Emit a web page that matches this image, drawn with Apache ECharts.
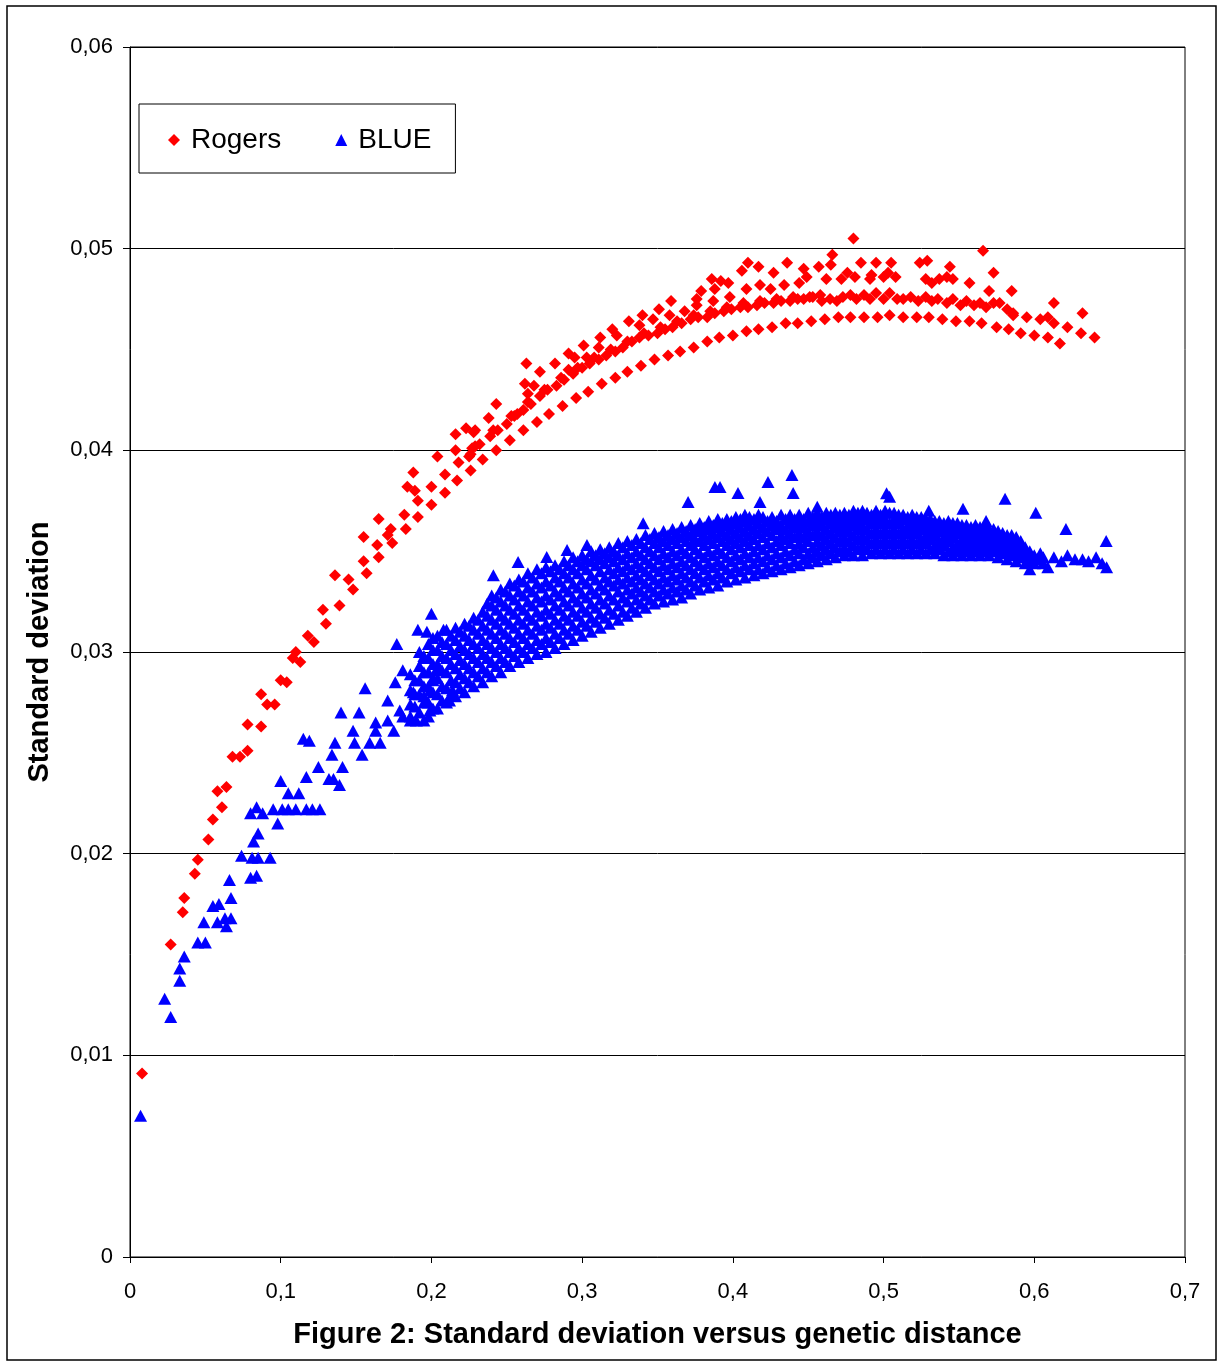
<!DOCTYPE html>
<html>
<head>
<meta charset="utf-8">
<script src="https://cdn.jsdelivr.net/npm/echarts@6/dist/echarts.min.js"></script>
<style>
  html, body { margin: 0; padding: 0; background: #fff; }
  #chart { width: 1218px; height: 1363px; }
</style>
</head>
<body>
<div id="chart"></div>
<script>
// axis ticks
var xTicks = [0, 0.1, 0.2, 0.3, 0.4, 0.5, 0.6, 0.7];
var yTicks = [0, 0.01, 0.02, 0.03, 0.04, 0.05, 0.06];

// Rogers, steep part at small distances
var rogersEarly = [
  [0.008,0.0091],[0.027,0.0155],[0.035,0.0171],[0.036,0.0178],[0.043,0.0190],[0.045,0.0197],
  [0.052,0.0207],[0.055,0.0217],[0.058,0.0231],[0.061,0.0223],[0.064,0.0233],[0.068,0.0248],
  [0.073,0.0248],[0.078,0.0251],[0.078,0.0264],[0.087,0.0263],[0.087,0.0279],[0.091,0.0274],
  [0.096,0.0274],[0.100,0.0286],[0.104,0.0285],[0.108,0.0297],[0.110,0.0300],[0.113,0.0295],
  [0.118,0.0308],[0.122,0.0305],[0.128,0.0321],[0.130,0.0314],[0.136,0.0338],[0.139,0.0323],
  [0.145,0.0336],[0.148,0.0331],[0.155,0.0357],[0.155,0.0345],[0.157,0.0339],[0.164,0.0353],
  [0.165,0.0347],[0.165,0.0366],[0.171,0.0358],[0.173,0.0361],[0.174,0.0354],[0.182,0.0368],
  [0.183,0.0361],[0.184,0.0382],[0.188,0.0389],[0.189,0.0380],[0.191,0.0375],[0.191,0.0367],
  [0.200,0.0382],[0.200,0.0373],[0.204,0.0397],[0.209,0.0388],[0.209,0.0379],[0.216,0.0408],
  [0.216,0.0400],[0.217,0.0385],[0.218,0.0394],[0.223,0.0411],[0.225,0.0397],[0.226,0.0390],
  [0.227,0.0401],[0.228,0.0409]
];
// Rogers, lower regular band
var rogersLow = [
  [0.234,0.03955],[0.243,0.0400],[0.252,0.0405],[0.261,0.0410],[0.270,0.0414],[0.278,0.0418],
  [0.287,0.0422],[0.296,0.0426],[0.304,0.0429],[0.313,0.0433],[0.322,0.0436],[0.330,0.0439],
  [0.339,0.0442],[0.348,0.0445],[0.357,0.0447],[0.365,0.0449],[0.374,0.0451],[0.383,0.0454],
  [0.391,0.0456],[0.400,0.0457],[0.409,0.0459],[0.417,0.0460],[0.426,0.0461],[0.435,0.0463],
  [0.443,0.0463],[0.452,0.0464],[0.461,0.0465],[0.470,0.0466],[0.478,0.0466],[0.487,0.0466],
  [0.496,0.0466],[0.504,0.0467],[0.513,0.0466],[0.522,0.0466],[0.530,0.0466],[0.539,0.0465],
  [0.548,0.0464],[0.557,0.0464],[0.565,0.0463],[0.575,0.0461],[0.583,0.0460],[0.591,0.0458],
  [0.600,0.0457],[0.609,0.0456],[0.617,0.0453],[0.631,0.0458],[0.640,0.0456]
];
// Rogers, dense middle band
var rogersMid = [
  [0.226,0.0398],[0.229,0.0402],[0.232,0.0403],[0.239,0.0407],[0.241,0.0410],[0.244,0.0410],
  [0.250,0.0413],[0.253,0.0417],[0.255,0.0417],[0.261,0.0420],[0.264,0.0424],[0.266,0.0423],
  [0.272,0.0427],[0.275,0.0430],[0.277,0.0430],[0.283,0.0432],[0.286,0.0436],[0.288,0.0435],
  [0.294,0.0438],[0.297,0.0441],[0.300,0.0441],[0.305,0.0443],[0.308,0.0446],[0.311,0.0445],
  [0.316,0.0447],[0.319,0.0450],[0.322,0.0449],[0.327,0.0451],[0.330,0.0454],[0.333,0.0454],
  [0.338,0.0456],[0.341,0.0458],[0.344,0.0457],[0.350,0.0458],[0.352,0.0461],[0.355,0.0460],
  [0.360,0.0461],[0.363,0.0464],[0.366,0.0463],[0.372,0.0465],[0.374,0.0467],[0.377,0.0466],
  [0.383,0.0466],[0.385,0.0469],[0.388,0.0468],[0.394,0.0469],[0.396,0.0471],[0.399,0.0470],
  [0.405,0.0471],[0.407,0.0473],[0.410,0.0471],[0.416,0.0472],[0.418,0.0474],[0.421,0.0473],
  [0.427,0.0473],[0.429,0.0475],[0.432,0.0474],[0.438,0.0474],[0.440,0.0476],[0.443,0.0475],
  [0.447,0.0475],[0.451,0.0476],[0.453,0.0476],[0.458,0.0477],[0.459,0.0474],[0.4645,0.0475],
  [0.469,0.0474],[0.473,0.0476],[0.478,0.0477],[0.482,0.0475],[0.487,0.0477],[0.491,0.0475],
  [0.495,0.0478],[0.500,0.0475],[0.504,0.0478],[0.509,0.0475],[0.513,0.0475],[0.518,0.0476],
  [0.523,0.0474],[0.528,0.0476],[0.532,0.0474],[0.536,0.0475],[0.542,0.0473],[0.546,0.0475],
  [0.551,0.0472],[0.555,0.0474],[0.560,0.0472],[0.564,0.0473],[0.568,0.0471],[0.573,0.0473],
  [0.577,0.0473],[0.582,0.0470],[0.586,0.0467]
];
// Rogers, scattered upper points
var rogersHigh = [
  [0.229,0.0410],[0.238,0.0416],[0.243,0.0423],[0.257,0.0418],[0.263,0.0443],[0.272,0.0439],
  [0.262,0.0433],[0.268,0.0432],[0.264,0.0428],[0.282,0.0443],[0.291,0.0448],[0.295,0.0446],
  [0.301,0.0452],[0.303,0.0446],[0.291,0.0440],[0.312,0.0456],[0.320,0.0460],[0.323,0.0457],
  [0.311,0.0451],[0.331,0.0464],[0.340,0.0467],[0.338,0.0462],[0.347,0.0465],[0.351,0.0470],
  [0.359,0.0474],[0.358,0.0467],[0.368,0.0469],[0.376,0.0475],[0.379,0.0479],[0.376,0.0472],
  [0.387,0.0474],[0.386,0.0485],[0.392,0.0484],[0.388,0.0480],[0.397,0.0483],[0.398,0.0476],
  [0.406,0.0489],[0.410,0.0493],[0.417,0.0491],[0.409,0.0480],[0.418,0.0482],[0.427,0.0488],
  [0.425,0.0480],[0.434,0.0482],[0.436,0.0493],[0.444,0.0483],[0.447,0.0490],[0.449,0.0486],
  [0.457,0.0491],[0.462,0.0485],[0.466,0.0497],[0.465,0.0492],[0.472,0.0485],[0.476,0.0488],
  [0.480,0.0505],[0.481,0.0486],[0.485,0.0493],[0.491,0.0485],[0.492,0.0487],[0.495,0.0493],
  [0.500,0.0486],[0.503,0.0488],[0.505,0.0493],[0.508,0.0486],[0.524,0.0493],[0.529,0.0494],
  [0.528,0.0485],[0.532,0.0483],[0.537,0.0485],[0.542,0.0486],[0.544,0.0491],[0.546,0.0485],
  [0.557,0.0483],[0.566,0.0499],[0.570,0.0479],[0.573,0.0488],[0.585,0.0479],[0.586,0.0468],
  [0.595,0.0466],[0.604,0.0465],[0.609,0.0466],[0.613,0.0463],[0.622,0.0461],[0.613,0.0473],
  [0.632,0.0468]
];

// BLUE, sparse points at small distances
var blueEarly = [
  [0.007,0.0070],[0.023,0.0128],[0.027,0.0119],[0.033,0.0137],[0.033,0.0143],[0.036,0.0149],
  [0.045,0.0156],[0.050,0.0156],[0.049,0.0166],[0.055,0.0174],[0.059,0.0175],[0.058,0.0166],
  [0.063,0.0168],[0.064,0.0164],[0.067,0.0168],[0.067,0.0178],[0.066,0.0187],[0.074,0.0199],
  [0.080,0.0188],[0.084,0.0189],[0.081,0.0198],[0.085,0.0198],[0.093,0.0198],[0.082,0.0206],
  [0.085,0.0210],[0.098,0.0215],[0.080,0.0220],[0.084,0.0223],[0.088,0.0220],[0.095,0.0222],
  [0.101,0.0222],[0.105,0.0222],[0.110,0.0222],[0.117,0.0222],[0.121,0.0222],[0.126,0.0222],
  [0.105,0.0230],[0.112,0.0230],[0.100,0.0236],[0.117,0.0238],[0.125,0.0243],[0.132,0.0237],
  [0.139,0.0234],[0.135,0.0237],[0.141,0.0243],[0.115,0.0257],[0.119,0.0256],[0.134,0.0249],
  [0.136,0.0255],[0.140,0.0270],[0.152,0.0270],[0.148,0.0261],[0.149,0.0255],[0.154,0.0249],
  [0.159,0.0255],[0.163,0.0265],[0.166,0.0255],[0.163,0.0261],[0.171,0.0266],[0.175,0.0261],
  [0.156,0.0282],[0.171,0.0276],[0.181,0.0291],[0.176,0.0285],[0.179,0.0271],[0.186,0.0266],
  [0.190,0.0266],[0.195,0.0266],[0.188,0.0280],[0.195,0.0278],[0.177,0.0304],[0.181,0.0268],
  [0.191,0.0311],[0.197,0.0310],[0.208,0.0311],[0.200,0.0319],[0.199,0.0271],[0.212,0.0276],
  [0.214,0.0281],[0.199,0.0281],[0.201,0.0286],[0.203,0.0291],[0.195,0.0298]
];
// BLUE, dense cloud: column x and the y values seen stacked in it
var blueCols = [
  [0.186, [0.0268,0.0274,0.0281,0.0289]],
  [0.192, [0.0270,0.0279,0.0286,0.0293,0.0300]],
  [0.198, [0.0268,0.0275,0.0283,0.0290,0.0297,0.0304]],
  [0.204, [0.0272,0.0279,0.0287,0.0294,0.0301,0.0308]],
  [0.210, [0.0275,0.0282,0.0290,0.0297,0.0304,0.0311]],
  [0.216, [0.0278,0.0285,0.0292,0.0299,0.0306,0.0312]],
  [0.222, [0.0280,0.0287,0.0294,0.0301,0.0308,0.0314]],
  [0.228, [0.0283,0.0290,0.0297,0.0304,0.0311,0.0317]],
  [0.234, [0.0285,0.0292,0.0299,0.0306,0.0313,0.0320]],
  [0.240, [0.0288,0.0295,0.0302,0.0309,0.0316,0.0323,0.0328]],
  [0.246, [0.0290,0.0297,0.0304,0.0311,0.0318,0.0325,0.0331]],
  [0.252, [0.0293,0.0300,0.0307,0.0314,0.0321,0.0328,0.0334]],
  [0.258, [0.0295,0.0302,0.0309,0.0316,0.0323,0.0330,0.0336]],
  [0.264, [0.0297,0.0304,0.0311,0.0318,0.0325,0.0332,0.0339]],
  [0.270, [0.0299,0.0306,0.0313,0.0320,0.0327,0.0334,0.0341]],
  [0.276, [0.0300,0.0307,0.0314,0.0321,0.0328,0.0335,0.0342]],
  [0.282, [0.0302,0.0309,0.0316,0.0323,0.0330,0.0337,0.0343]],
  [0.288, [0.0304,0.0311,0.0318,0.0325,0.0332,0.0339,0.0345]],
  [0.294, [0.0306,0.0313,0.0320,0.0327,0.0334,0.0341,0.0347]],
  [0.300, [0.0308,0.0315,0.0322,0.0329,0.0336,0.0343,0.0348]],
  [0.306, [0.0310,0.0317,0.0324,0.0331,0.0338,0.0345,0.0350]],
  [0.312, [0.0312,0.0319,0.0326,0.0333,0.0340,0.0346,0.0351]],
  [0.318, [0.0314,0.0321,0.0328,0.0335,0.0341,0.0347,0.0352]],
  [0.324, [0.0316,0.0323,0.0330,0.0336,0.0342,0.0348,0.0354]],
  [0.330, [0.0318,0.0325,0.0331,0.0337,0.0343,0.0349,0.0355]],
  [0.336, [0.0320,0.0326,0.0332,0.0338,0.0344,0.0350,0.0356]],
  [0.342, [0.0322,0.0328,0.0334,0.0340,0.0346,0.0352,0.0358]],
  [0.348, [0.0324,0.0330,0.0336,0.0342,0.0348,0.0354,0.0359]],
  [0.354, [0.0325,0.0331,0.0337,0.0343,0.0349,0.0355,0.0360]],
  [0.360, [0.0326,0.0332,0.0338,0.0344,0.0350,0.0356,0.0361]],
  [0.366, [0.0327,0.0333,0.0339,0.0345,0.0351,0.0357,0.0362]],
  [0.372, [0.0329,0.0335,0.0341,0.0347,0.0353,0.0358,0.0363]],
  [0.378, [0.0331,0.0337,0.0343,0.0349,0.0355,0.0360,0.0364]],
  [0.384, [0.0332,0.0338,0.0344,0.0350,0.0356,0.0361,0.0365]],
  [0.390, [0.0333,0.0339,0.0345,0.0351,0.0357,0.0362,0.0366]],
  [0.396, [0.0335,0.0341,0.0347,0.0353,0.0358,0.0363,0.0366]],
  [0.402, [0.0336,0.0342,0.0348,0.0354,0.0359,0.0364,0.0367]],
  [0.408, [0.0337,0.0343,0.0349,0.0355,0.0360,0.0365,0.0368]],
  [0.414, [0.0338,0.0344,0.0350,0.0356,0.0361,0.0366]],
  [0.420, [0.0339,0.0345,0.0351,0.0357,0.0362,0.0367]],
  [0.426, [0.0340,0.0346,0.0352,0.0358,0.0363,0.0367]],
  [0.432, [0.0341,0.0347,0.0353,0.0358,0.0363,0.0368]],
  [0.438, [0.0342,0.0348,0.0354,0.0359,0.0364,0.0368]],
  [0.444, [0.0343,0.0349,0.0354,0.0359,0.0364,0.0368]],
  [0.450, [0.0344,0.0349,0.0355,0.0360,0.0365,0.0369]],
  [0.456, [0.0345,0.0350,0.0355,0.0360,0.0365,0.0369]],
  [0.462, [0.0346,0.0351,0.0356,0.0361,0.0366,0.0369]],
  [0.468, [0.0347,0.0352,0.0357,0.0362,0.0366,0.0369]],
  [0.474, [0.0348,0.0352,0.0357,0.0362,0.0366,0.0369]],
  [0.480, [0.0348,0.0353,0.0358,0.0363,0.0367,0.0370]],
  [0.486, [0.0348,0.0353,0.0358,0.0363,0.0367,0.0370]],
  [0.492, [0.0349,0.0354,0.0359,0.0364,0.0368]],
  [0.498, [0.0349,0.0354,0.0359,0.0364,0.0368]],
  [0.504, [0.0349,0.0354,0.0359,0.0364,0.0369]],
  [0.510, [0.0349,0.0354,0.0359,0.0364,0.0368]],
  [0.516, [0.0349,0.0354,0.0359,0.0363,0.0367]],
  [0.522, [0.0349,0.0354,0.0359,0.0363,0.0367]],
  [0.528, [0.0349,0.0354,0.0358,0.0362,0.0366]],
  [0.534, [0.0349,0.0353,0.0358,0.0362,0.0365]],
  [0.540, [0.0348,0.0353,0.0357,0.0361,0.0364]],
  [0.546, [0.0348,0.0352,0.0357,0.0361,0.0364]],
  [0.552, [0.0348,0.0352,0.0356,0.0360,0.0363]],
  [0.558, [0.0348,0.0352,0.0356,0.0360,0.0362]],
  [0.564, [0.0348,0.0352,0.0356,0.0359,0.0362]],
  [0.570, [0.0348,0.0352,0.0355,0.0359,0.0361]],
  [0.576, [0.0347,0.0351,0.0355,0.0358,0.0360]],
  [0.582, [0.0346,0.0350,0.0354,0.0358]],
  [0.588, [0.0345,0.0349,0.0353,0.0357]],
  [0.594, [0.0344,0.0348,0.0352]],
  [0.600, [0.0344,0.0348]],
  [0.606, [0.0344,0.0347]]
];
// BLUE, dense cloud, points lying between the columns and rows above
var blueColsB = [
  [0.189, [0.0273,0.0279,0.0286]],
  [0.195, [0.0275,0.0283,0.0290,0.0297]],
  [0.201, [0.0272,0.0280,0.0287,0.0294,0.0301,0.0307]],
  [0.207, [0.0276,0.0283,0.0291,0.0298,0.0305]],
  [0.213, [0.0279,0.0286,0.0294,0.0301,0.0308]],
  [0.219, [0.0282,0.0289,0.0296,0.0303,0.0310]],
  [0.225, [0.0285,0.0292,0.0299,0.0306,0.0313]],
  [0.231, [0.0288,0.0295,0.0302,0.0309,0.0316]],
  [0.237, [0.0290,0.0297,0.0304,0.0311,0.0318,0.0324]],
  [0.243, [0.0293,0.0300,0.0307,0.0314,0.0321,0.0327]],
  [0.249, [0.0295,0.0302,0.0309,0.0316,0.0323,0.0330]],
  [0.255, [0.0298,0.0305,0.0312,0.0319,0.0326,0.0333]],
  [0.261, [0.0300,0.0307,0.0314,0.0321,0.0328,0.0335]],
  [0.267, [0.0302,0.0309,0.0316,0.0323,0.0330,0.0337]],
  [0.273, [0.0304,0.0311,0.0318,0.0325,0.0332,0.0339]],
  [0.279, [0.0305,0.0312,0.0319,0.0326,0.0333,0.0340]],
  [0.285, [0.0307,0.0314,0.0321,0.0328,0.0335,0.0341]],
  [0.291, [0.0309,0.0316,0.0323,0.0330,0.0337,0.0343]],
  [0.297, [0.0311,0.0318,0.0325,0.0332,0.0339,0.0345]],
  [0.303, [0.0313,0.0320,0.0327,0.0334,0.0341,0.0346]],
  [0.309, [0.0315,0.0322,0.0329,0.0336,0.0343,0.0348]],
  [0.315, [0.0317,0.0324,0.0331,0.0337,0.0344,0.0349]],
  [0.321, [0.0319,0.0326,0.0333,0.0339,0.0345,0.0350]],
  [0.327, [0.0320,0.0327,0.0334,0.0340,0.0346,0.0352]],
  [0.333, [0.0322,0.0329,0.0335,0.0341,0.0347,0.0353]],
  [0.339, [0.0324,0.0330,0.0336,0.0342,0.0348,0.0354]],
  [0.345, [0.0326,0.0332,0.0338,0.0344,0.0350,0.0356]],
  [0.351, [0.0328,0.0334,0.0340,0.0346,0.0352,0.0357]],
  [0.357, [0.0329,0.0335,0.0341,0.0347,0.0353,0.0358]],
  [0.363, [0.0330,0.0336,0.0342,0.0348,0.0354,0.0359]],
  [0.369, [0.0331,0.0337,0.0343,0.0349,0.0355,0.0360]],
  [0.375, [0.0333,0.0339,0.0345,0.0351,0.0356,0.0361]],
  [0.381, [0.0335,0.0341,0.0347,0.0353,0.0358,0.0362]],
  [0.387, [0.0336,0.0342,0.0348,0.0354,0.0359,0.0363]],
  [0.393, [0.0337,0.0343,0.0349,0.0355,0.0360,0.0364]],
  [0.399, [0.0339,0.0345,0.0351,0.0356,0.0361,0.0365]],
  [0.405, [0.0340,0.0346,0.0352,0.0357,0.0362,0.0366]],
  [0.411, [0.0341,0.0347,0.0353,0.0358,0.0363,0.0367]],
  [0.417, [0.0341,0.0347,0.0353,0.0359,0.0364,0.0368]],
  [0.423, [0.0342,0.0348,0.0354,0.0360,0.0365]],
  [0.429, [0.0343,0.0349,0.0355,0.0361,0.0365]],
  [0.435, [0.0344,0.0350,0.0356,0.0361,0.0366]],
  [0.441, [0.0345,0.0351,0.0357,0.0362,0.0366]],
  [0.447, [0.0346,0.0352,0.0357,0.0362,0.0366]],
  [0.453, [0.0347,0.0352,0.0358,0.0363,0.0367]],
  [0.459, [0.0348,0.0353,0.0358,0.0363,0.0367]],
  [0.465, [0.0349,0.0354,0.0359,0.0364,0.0368]],
  [0.471, [0.0350,0.0355,0.0360,0.0364,0.0368]],
  [0.477, [0.0350,0.0355,0.0360,0.0364,0.0368]],
  [0.483, [0.0351,0.0356,0.0361,0.0365,0.0369]],
  [0.489, [0.0351,0.0356,0.0361,0.0366,0.0369]],
  [0.495, [0.0351,0.0356,0.0361,0.0366,0.0370]],
  [0.501, [0.0351,0.0356,0.0361,0.0366,0.0370]],
  [0.507, [0.0351,0.0356,0.0361,0.0366,0.0369]],
  [0.513, [0.0351,0.0356,0.0361,0.0366,0.0368]],
  [0.519, [0.0351,0.0356,0.0361,0.0365,0.0368]],
  [0.525, [0.0351,0.0356,0.0361,0.0365,0.0367]],
  [0.531, [0.0351,0.0356,0.0360,0.0364,0.0366]],
  [0.537, [0.0351,0.0355,0.0360,0.0363,0.0365]],
  [0.543, [0.0350,0.0355,0.0359,0.0363,0.0365]],
  [0.549, [0.0350,0.0354,0.0359,0.0362,0.0364]],
  [0.555, [0.0350,0.0354,0.0358,0.0362,0.0363]],
  [0.561, [0.0350,0.0354,0.0358,0.0361,0.0363]],
  [0.567, [0.0350,0.0354,0.0357,0.0360,0.0362]],
  [0.573, [0.0350,0.0353,0.0357,0.0360,0.0361]],
  [0.579, [0.0349,0.0353,0.0356,0.0359]],
  [0.585, [0.0348,0.0352,0.0356,0.0358]],
  [0.591, [0.0347,0.0351,0.0355]],
  [0.597, [0.0346,0.0350]],
  [0.603, [0.0346]]
];
// BLUE, sparse tail and outliers above the cloud
var blueTail = [
  [0.613,0.0347],[0.618,0.0345],[0.622,0.0348],[0.627,0.0346],[0.632,0.0346],[0.636,0.0345],
  [0.641,0.0347],[0.645,0.0344],[0.648,0.0342],[0.609,0.0342],[0.604,0.0349],[0.597,0.0341],
  [0.2411,0.0338],[0.2575,0.03446],[0.2765,0.03471],[0.290,0.03506],[0.3032,0.03531],
  [0.3405,0.03638],[0.3703,0.03744],[0.3881,0.03818],[0.3915,0.03818],[0.4034,0.03788],
  [0.4233,0.03843],[0.4392,0.03878],[0.440,0.03788],[0.418,0.03744],[0.502,0.03787],
  [0.504,0.0377],[0.5806,0.0376],[0.601,0.0369],[0.621,0.0361],[0.6477,0.0355],[0.5527,0.0371],
  [0.456,0.0372],[0.530,0.0370],[0.568,0.0365]
];

var rogersData = rogersEarly.concat(rogersLow, rogersMid, rogersHigh);
var blueData = blueEarly.slice();
blueCols.concat(blueColsB).forEach(function (c) {
  c[1].forEach(function (y) { blueData.push([c[0], y]); });
});
blueData = blueData.concat(blueTail);

function comma(v, d) {
  return v === 0 ? '0' : v.toFixed(d).replace('.', ',');
}

var chart = echarts.init(document.getElementById('chart'));
var font = "'Liberation Sans', Arial, sans-serif";

var option = {
  animation: false,
  backgroundColor: '#fff',
  textStyle: { fontFamily: font },
  graphic: [{
    type: 'rect',
    shape: { x: 7, y: 6, width: 1209, height: 1354 },
    style: { fill: 'none', stroke: '#000', lineWidth: 1.5 },
    silent: true
  }],
  grid: {
    left: 130, top: 47, right: 33, bottom: 106,
    show: true, borderColor: '#000', borderWidth: 1
  },
  legend: {
    left: 139, top: 104,
    orient: 'horizontal',
    borderColor: '#000', borderWidth: 1,
    padding: [22, 24, 19, 29],
    itemGap: 54,
    itemWidth: 12, itemHeight: 12,
    textStyle: { fontSize: 28, color: '#000', fontFamily: font, padding: [0, 0, 0, 6] },
    data: ['Rogers', 'BLUE']
  },
  xAxis: {
    type: 'value',
    min: xTicks[0], max: xTicks[xTicks.length - 1], interval: 0.1,
    name: 'Figure 2: Standard deviation versus genetic distance',
    nameLocation: 'middle', nameGap: 63,
    nameTextStyle: { fontSize: 29, fontWeight: 'bold', color: '#000', fontFamily: font },
    axisLine: { lineStyle: { color: '#000', width: 1 } },
    axisTick: { show: true, length: 6, lineStyle: { color: '#000' } },
    axisLabel: { fontSize: 22, color: '#000', margin: 24, formatter: function (v) { return comma(v, 1); } },
    splitLine: { show: false }
  },
  yAxis: {
    type: 'value',
    min: yTicks[0], max: yTicks[yTicks.length - 1], interval: 0.01,
    name: 'Standard deviation',
    nameLocation: 'middle', nameGap: 76,
    nameTextStyle: { fontSize: 29, fontWeight: 'bold', color: '#000', fontFamily: font },
    axisLine: { show: true, lineStyle: { color: '#000', width: 1 } },
    axisTick: { show: true, length: 7, lineStyle: { color: '#000' } },
    axisLabel: { fontSize: 22, color: '#000', margin: 17, formatter: function (v) { return comma(v, 2); } },
    splitLine: { show: true, lineStyle: { color: '#000', width: 1 } }
  },
  series: [
    {
      name: 'Rogers', type: 'scatter',
      symbol: 'diamond', symbolSize: 12,
      itemStyle: { color: '#ff0000', opacity: 1 },
      data: rogersData
    },
    {
      name: 'BLUE', type: 'scatter',
      symbol: 'triangle', symbolSize: [13, 12],
      itemStyle: { color: '#0000ff', opacity: 1 },
      data: blueData
    }
  ]
};

chart.setOption(option);
</script>
</body>
</html>
